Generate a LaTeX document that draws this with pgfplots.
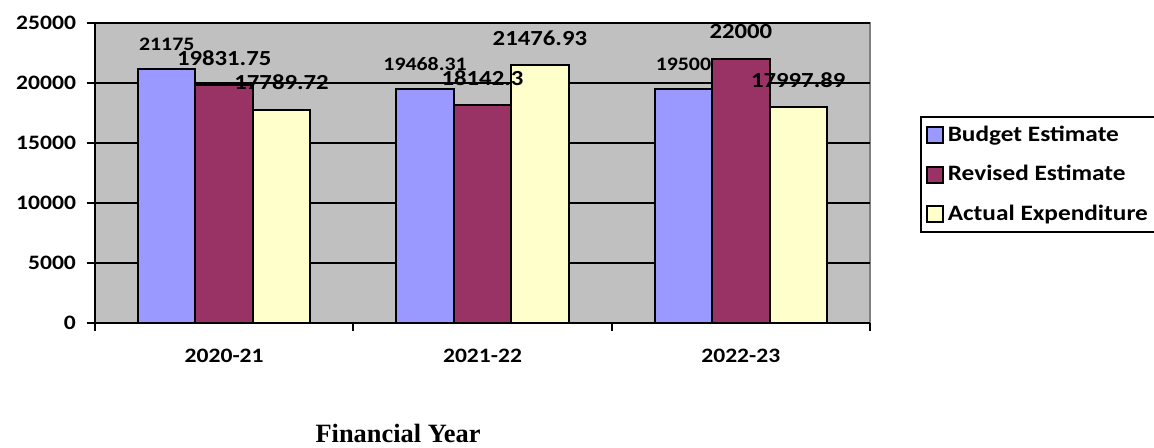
\documentclass[border=0pt]{standalone}
\usepackage{pgfplots}
\pgfplotsset{compat=1.18}
\usepackage{fontspec}
\setmainfont{Carlito}[FakeStretch=1.15]
\newfontfamily\tnr{Liberation Serif}
\definecolor{bBlue}{HTML}{9999FF}
\definecolor{bRed}{HTML}{993366}
\definecolor{bYel}{HTML}{FFFFCC}
\definecolor{bg}{HTML}{C0C0C0}
\definecolor{brd}{HTML}{808080}
\begin{document}
\begin{tikzpicture}
\begin{axis}[
  at={(47.5pt,62pt)}, anchor=south west,
  scale only axis, width=387.5pt, height=150pt,
  xmin=-0.5, xmax=2.5, ymin=0, ymax=25000,
  ybar=0pt, bar width=0.2222,
  set layers, mark layer=axis foreground, clip=false,
  axis background/.style={fill=bg, draw=brd, line width=1pt},
  axis x line=bottom, axis y line=left,
  axis line style={-, black, line width=1pt},
  tick align=outside,
  xtick={0,1,2}, xticklabels={2020-21,2021-22,2022-23},
  major x tick style={draw=none},
  minor xtick={-0.5,0.5,1.5,2.5},
  minor x tick style={black, line width=1pt},
  minor tick length=4pt,
  major tick length=4pt,
  ytick={0,5000,10000,15000,20000,25000},
  major y tick style={black, line width=1pt},
  scaled y ticks=false,
  ymajorgrids, grid style={black, line width=1pt},
  /pgf/number format/assume math mode=true,
  /pgf/number format/1000 sep={},
  tick label style={font=\fontsize{10.25pt}{12pt}\selectfont\bfseries},
  yticklabel style={xshift=-2pt},
  xticklabel style={yshift=-5.5pt},
  xlabel={\tnr\fontsize{13.2pt}{15pt}\selectfont\bfseries Financial Year},
  xlabel style={at={(axis description cs:0.391,-0.397)}, anchor=base, inner sep=0pt},
  legend style={at={(axis description cs:1.0645,0.69)}, anchor=north west,
    draw=black, line width=1pt, font=\fontsize{11pt}{13pt}\selectfont\bfseries,
    row sep=6.5pt, inner sep=2.5pt},
  legend cell align=left,
  legend image code/.code={\draw[#1, line width=0.9pt] (0pt,-4pt) rectangle (8pt,4pt);},
]
\addplot[fill=bBlue, draw=black, line width=1pt,
  nodes near coords, point meta=explicit symbolic,
  every node near coord/.append style={text=black, anchor=center, yshift=12.5pt,
    font=\fontsize{9.5pt}{11pt}\selectfont\bfseries}]
  coordinates {(0,21175) [21175] (1,19468.31) [19468.31] (2,19500) [19500]};
\addplot[fill=bRed, draw=black, line width=1pt,
  nodes near coords, point meta=explicit symbolic,
  every node near coord/.append style={text=black, anchor=center, yshift=13.5pt,
    font=\fontsize{10.75pt}{12pt}\selectfont\bfseries}]
  coordinates {(0,19831.75) [19831.75] (1,18142.3) [18142.3] (2,22000) [22000]};
\addplot[fill=bYel, draw=black, line width=1pt,
  nodes near coords, point meta=explicit symbolic,
  every node near coord/.append style={text=black, anchor=center, yshift=13.5pt,
    font=\fontsize{10.75pt}{12pt}\selectfont\bfseries}]
  coordinates {(0,17789.72) [17789.72] (1,21476.93) [21476.93] (2,17997.89) [17997.89]};
\legend{Budget Estimate, Revised Estimate, Actual Expenditure}
\end{axis}
\pgfresetboundingbox
\path (0,0) rectangle (577pt,223.5pt);
\end{tikzpicture}
\end{document}
